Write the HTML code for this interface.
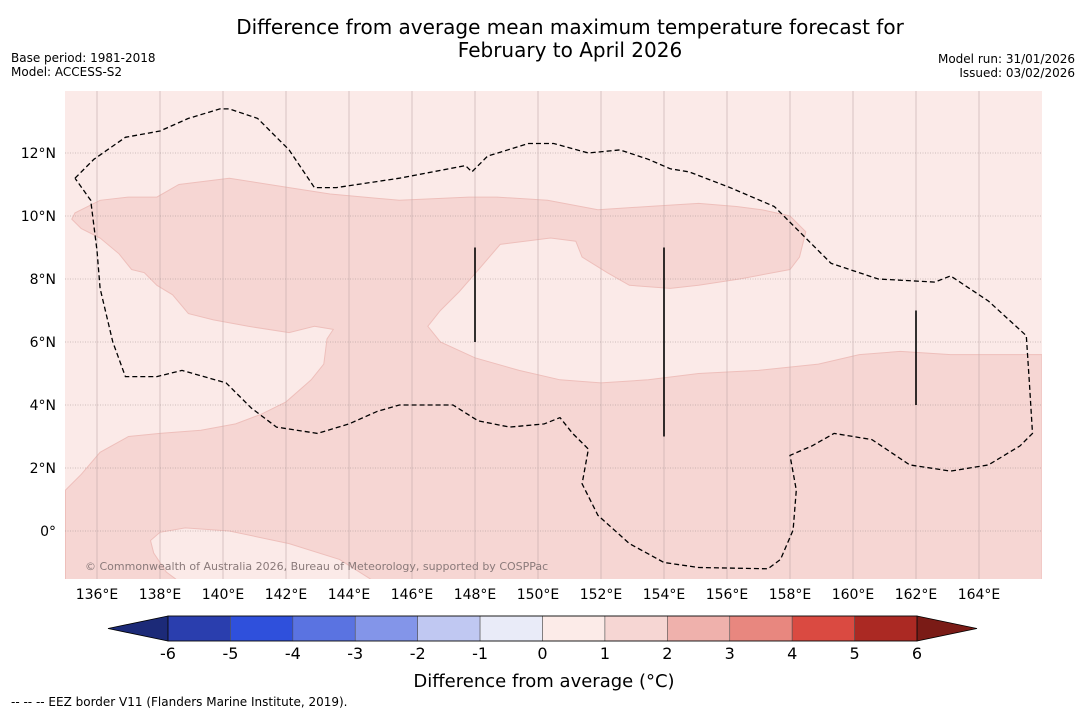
<!DOCTYPE html>
<html><head><meta charset="utf-8"><style>
body{margin:0;background:#fff;font-family:"DejaVu Sans","Liberation Sans",sans-serif}
svg{display:block}
</style></head><body>
<svg id="s" width="1085" height="713" xmlns="http://www.w3.org/2000/svg">
<text x="570" y="34" font-size="20" text-anchor="middle">Difference from average mean maximum temperature forecast for</text>
<text x="570" y="57" font-size="20" text-anchor="middle">February to April 2026</text>
<text x="11" y="62" font-size="12">Base period: 1981-2018</text>
<text x="11" y="76" font-size="12">Model: ACCESS-S2</text>
<text x="1075" y="63" font-size="12" text-anchor="end">Model run: 31/01/2026</text>
<text x="1075" y="77" font-size="12" text-anchor="end">Issued: 03/02/2026</text>
<defs><clipPath id="mc"><rect x="65" y="91" width="977" height="488"/></clipPath></defs>
<g id="map" clip-path="url(#mc)">
<rect x="65" y="91" width="977" height="488" fill="#fbeae8"/>
</g>
<g id="axes"></g>
<g id="cbar"></g>
<text x="544" y="687" font-size="18" text-anchor="middle">Difference from average (°C)</text>
<text x="11" y="706" font-size="12">--  --  -- EEZ border V11 (Flanders Marine Institute, 2019).</text>
</svg>
<script>
const lonTicks=[136,138,140,142,144,146,148,150,152,154,156,158,160,162,164];
const latTicks=[0,2,4,6,8,10,12];
const cbTicks=[-6,-5,-4,-3,-2,-1,0,1,2,3,4,5,6];
const cbColors=["#2a3eae","#2f50dc","#5a73e1","#8395e9","#c0c8f2","#e9ebf8","#fcebe8","#f6d6d3","#efb1ac","#e8877f","#da4a41","#ab2923"];
const cbLow="#1c2a78",cbHigh="#7a1b16";
const warmRegion=[[135,1.3],[135.5,1.8],[136.1,2.5],[137.0,3.0],[138.0,3.1],[139.3,3.2],[140.4,3.4],[141.2,3.7],[142.0,4.1],[142.8,4.8],[143.2,5.3],[143.3,6.1],[143.5,6.4],[142.9,6.5],[142.1,6.3],[140.8,6.5],[139.7,6.7],[138.9,6.9],[138.4,7.5],[137.9,7.8],[137.5,8.2],[137.1,8.3],[136.7,8.8],[136.1,9.3],[135.5,9.6],[135.2,9.9],[135.3,10.1],[136.1,10.5],[137.0,10.6],[137.9,10.6],[138.6,11.0],[140.2,11.2],[142.1,10.9],[143.4,10.7],[145.6,10.5],[147.8,10.6],[148.7,10.6],[150.3,10.5],[151.9,10.2],[153.5,10.3],[155.1,10.4],[156.3,10.3],[157.1,10.2],[158.0,10.0],[158.5,9.5],[158.3,8.7],[158.0,8.3],[156.4,8.0],[155.1,7.8],[154.2,7.7],[152.9,7.8],[152.2,8.2],[151.4,8.7],[151.2,9.2],[150.4,9.3],[148.8,9.1],[148.2,8.4],[147.5,7.6],[146.9,7.0],[146.5,6.5],[146.9,6.0],[148.0,5.5],[149.4,5.1],[150.7,4.8],[152.0,4.7],[153.5,4.8],[155.1,5.0],[157.0,5.1],[158.9,5.3],[160.2,5.6],[161.5,5.7],[163.1,5.6],[166,5.6],[166,-1.6],[135,-1.6]];
const coolPatch=[[138.6,-1.6],[138.2,-1.3],[137.8,-0.7],[137.7,-0.3],[138.0,-0.04],[138.8,0.1],[140.2,0],[142.1,-0.4],[143.7,-0.9],[144.8,-1.6]];
const eezLine=[[135.3,11.2],[135.9,11.8],[136.9,12.5],[138.0,12.7],[138.9,13.1],[139.9,13.4],[140.2,13.4],[141.1,13.1],[142.1,12.1],[142.9,10.9],[143.6,10.9],[145.6,11.2],[147.7,11.6],[147.9,11.4],[148.4,11.9],[149.7,12.3],[150.5,12.3],[151.6,12.0],[152.6,12.1],[153.5,11.8],[154.2,11.5],[154.8,11.4],[156.1,10.9],[157.5,10.3],[158.3,9.5],[159.3,8.5],[160.8,8.0],[162.6,7.9],[163.1,8.1],[164.3,7.3],[165.5,6.2],[165.6,4.7],[165.7,3.1],[165.3,2.7],[164.3,2.1],[163.1,1.9],[161.8,2.1],[160.9,2.7],[160.6,2.9],[159.4,3.1],[158.7,2.7],[158.0,2.4],[158.2,1.3],[158.1,0.03],[157.7,-0.9],[157.3,-1.2],[155.1,-1.16],[154.0,-1.0],[152.9,-0.4],[151.9,0.5],[151.4,1.5],[151.6,2.6],[151.1,3.1],[150.7,3.6],[150.2,3.4],[149.1,3.3],[148.1,3.5],[147.3,4.0],[145.6,4.0],[144.9,3.8],[144.0,3.4],[143.0,3.1],[141.7,3.3],[140.9,3.9],[140.1,4.7],[138.7,5.1],[137.9,4.9],[136.9,4.9],[136.5,6.0],[136.1,7.7],[136.0,8.9],[135.8,10.5],[135.3,11.2]];
const markers=[[148,6.0,9.0],[154,3.0,9.0],[162,4.0,7.0]];

const NS="http://www.w3.org/2000/svg";
const X=lon=>97+(lon-136)*31.5, Y=lat=>531-lat*31.5;
function el(t,a,p){const e=document.createElementNS(NS,t);for(const k in a)e.setAttribute(k,a[k]);p.appendChild(e);return e;}
const map=document.getElementById('map'),axes=document.getElementById('axes'),cb=document.getElementById('cbar');
const pts=a=>a.map(p=>X(p[0]).toFixed(1)+','+Y(p[1]).toFixed(1)).join(' ');
let e=el('polygon',{points:pts(warmRegion),fill:"#f6d6d3",stroke:"#eebfbb","stroke-width":1},map);


e=el('polygon',{points:pts(coolPatch),fill:"#fbeae8",stroke:"#eebfbb","stroke-width":1},map);


lonTicks.forEach(l=>{const g=el('line',{x1:X(l),x2:X(l),y1:91,y2:579,stroke:"#c0a8a8","stroke-width":0.6},map);


const t=el('text',{x:X(l),y:599,"font-size":14,"text-anchor":"middle"},axes);t.textContent=l+"°E";

});
latTicks.forEach(l=>{const g=el('line',{x1:65,x2:1042,y1:Y(l),y2:Y(l),stroke:"#a08f8f","stroke-width":0.6,"stroke-dasharray":"1,1.5"},map);


const t=el('text',{x:56,y:Y(l)+5,"font-size":14,"text-anchor":"end"},axes);t.textContent=l===0?"0°":l+"°N";

});
e=el('polyline',{points:pts(eezLine),fill:"none",stroke:"#000","stroke-width":1.3,"stroke-dasharray":"5,3"},map);


markers.forEach(m=>{const l=el('line',{x1:X(m[0]),x2:X(m[0]),y1:Y(m[1]),y2:Y(m[2]),stroke:"#000","stroke-width":1.6},map);

});
e=el('text',{x:85,y:570,"font-size":11,fill:"#8a7a7a"},map);e.textContent="© Commonwealth of Australia 2026, Bureau of Meteorology, supported by COSPPac";


const c0=168,c1=917,cy=616,ch=25,v0=cbTicks[0],v1=cbTicks[cbTicks.length-1];
const CX=v=>c0+(v-v0)/(v1-v0)*(c1-c0);
e=el('polygon',{points:`${c0},${cy} 108,${cy+ch/2} ${c0},${cy+ch}`,fill:cbLow,stroke:"#000","stroke-width":0.8},cb);


e=el('polygon',{points:`${c1},${cy} 977,${cy+ch/2} ${c1},${cy+ch}`,fill:cbHigh,stroke:"#000","stroke-width":0.8},cb);


cbColors.forEach((c,i)=>{const r=el('rect',{x:CX(cbTicks[i]),y:cy,width:CX(cbTicks[i+1])-CX(cbTicks[i]),height:ch,fill:c,stroke:"#555","stroke-width":0.6},cb);

});
el('rect',{x:c0,y:cy,width:c1-c0,height:ch,fill:"none",stroke:"#000","stroke-width":0.8},cb);
cbTicks.forEach(v=>{const t=el('text',{x:CX(v),y:659,"font-size":16,"text-anchor":"middle"},cb);t.textContent=v;

});
</script>
</body></html>
